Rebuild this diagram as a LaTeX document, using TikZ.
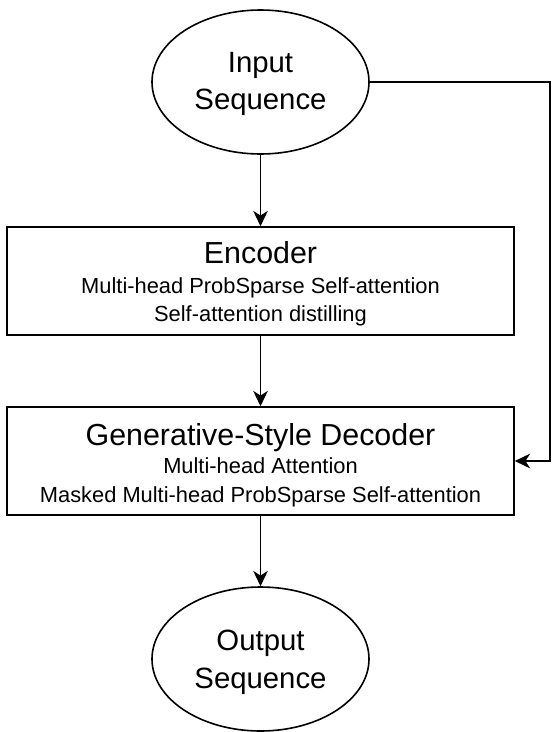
\documentclass[tikz,border=0pt]{standalone}
\usepackage{fontspec}
\setmainfont{Liberation Sans}
\usetikzlibrary{shapes.geometric,arrows.meta}
\begin{document}
\begin{tikzpicture}[x=0.75pt,y=-0.75pt,
  box/.style={draw,line width=1.2pt,minimum width=380.25pt,minimum height=81pt,inner sep=0pt},
  oval/.style={draw,ellipse,line width=1.2pt,minimum width=162.75pt,minimum height=108pt,inner sep=0pt},
  arr/.style={line width=1.2pt,-{Stealth[length=11.5pt,width=11pt,inset=3.5pt]}},
  big/.style={anchor=base,inner sep=0pt,font=\fontsize{22}{22}\selectfont},
  ttl/.style={anchor=base,inner sep=0pt,font=\fontsize{22.8}{22.8}\selectfont},
  sub/.style={anchor=base,inner sep=0pt,font=\fontsize{16.4}{16.4}\selectfont}]
\useasboundingbox (0,0) rectangle (558,732);
\node[oval] (in) at (260.5,82) {};
\node[big] (int1) at (260.5,72) {Input};
\node[big] (int2) at (260.5,109) {Sequence};
\node[box] (enc) at (260.5,281) {};
\node[ttl] (enct) at (260.5,263) {Encoder};
\node[sub] (encs1) at (260.5,293) {Multi-head ProbSparse Self-attention};
\node[sub] (encs2) at (260.5,321) {Self-attention distilling};
\node[box] (dec) at (260.5,461) {};
\node[ttl] (dect) at (260.5,445) {Generative-Style Decoder};
\node[sub] (decs1) at (260.5,473) {Multi-head Attention};
\node[sub] (decs2) at (260.5,502) {Masked Multi-head ProbSparse Self-attention};
\node[oval] (out) at (260.5,659) {};
\node[big] (outt1) at (260.5,650) {Output};
\node[big] (outt2) at (260.5,688) {Sequence};
\coordinate (c1) at (550,82);
\draw[arr] (in.south) -- (enc.north);
\draw[arr] (enc.south) -- (dec.north);
\draw[arr] (dec.south) -- (out.north);
\draw[arr] (in.east) -- (c1) |- (dec.east);
\end{tikzpicture}
\end{document}
